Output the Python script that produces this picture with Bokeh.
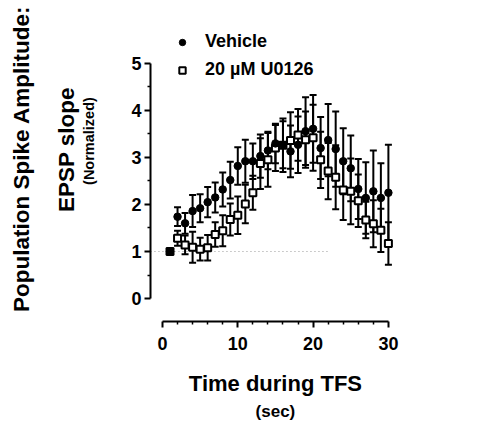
import numpy as np
from bokeh.plotting import figure
from bokeh.models import (Range1d, FixedTicker, Whisker, TeeHead, ColumnDataSource,
                          Label, Legend, LegendItem)
from bokeh.embed import file_html
from bokeh.resources import INLINE

# ---- data ----
TIME = list(range(1, 31))
VEHICLE = [1.00, 1.74, 1.60, 1.86, 1.92, 2.05, 2.15, 2.32, 2.52, 2.82,
           2.92, 2.92, 3.03, 3.15, 3.30, 3.27, 3.13, 3.27, 3.56, 3.61,
           3.20, 3.37, 3.18, 2.92, 2.77, 2.33, 2.14, 2.28, 2.14, 2.25]
VEHICLE_SEM = [0.00, 0.20, 0.22, 0.34, 0.30, 0.32, 0.32, 0.36, 0.39, 0.40,
               0.46, 0.38, 0.46, 0.40, 0.42, 0.50, 0.55, 0.60, 0.72, 0.72,
               0.66, 0.77, 0.80, 0.70, 0.70, 0.64, 0.76, 0.87, 0.74, 1.02]
U0126 = [1.00, 1.28, 1.14, 1.09, 1.05, 1.08, 1.36, 1.44, 1.68, 1.77,
         2.01, 2.25, 2.87, 2.95, 3.20, 3.26, 3.36, 3.48, 3.38, 3.42,
         2.95, 2.71, 2.58, 2.31, 2.28, 2.08, 1.67, 1.59, 1.45, 1.17]
U0126_SEM = [0.00, 0.16, 0.20, 0.33, 0.24, 0.27, 0.26, 0.33, 0.34, 0.40,
             0.41, 0.36, 0.54, 0.57, 0.49, 0.57, 0.60, 0.55, 0.60, 0.70,
             0.60, 0.60, 0.68, 0.64, 0.70, 0.56, 0.39, 0.50, 0.46, 0.45]
SERIES_NAMES = ["Vehicle", "20 \u00b5M U0126"]
X_TICKS = [0, 10, 20, 30]
Y_TICKS = [0, 1, 2, 3, 4, 5]
BASELINE = 1.0
BASELINE_END = 22

FONT = "Liberation Sans"
# where the two (offset, Prism-style) axes cross the other dimension
Y_AXIS_AT = -1.594
X_AXIS_AT = -0.489

p = figure(width=469, height=422,
           x_range=Range1d(-21.51, 40.77), y_range=Range1d(-2.638, 6.34),
           output_backend="svg", toolbar_location=None,
           min_border_left=0, min_border_right=0,
           min_border_top=0, min_border_bottom=0)
p.outline_line_color = None
p.xgrid.visible = False
p.ygrid.visible = False
p.background_fill_color = "white"

veh_src = ColumnDataSource(dict(
    x=TIME, y=VEHICLE,
    upper=[v + s for v, s in zip(VEHICLE, VEHICLE_SEM)],
    lower=[v - s for v, s in zip(VEHICLE, VEHICLE_SEM)]))
u_src = ColumnDataSource(dict(
    x=TIME, y=U0126,
    upper=[v + s for v, s in zip(U0126, U0126_SEM)],
    lower=[v - s for v, s in zip(U0126, U0126_SEM)]))

# dotted baseline at 1
p.segment(x0=[Y_AXIS_AT], y0=[BASELINE], x1=[BASELINE_END], y1=[BASELINE],
          line_color="#9a9a9a", line_width=1, line_dash="1 3")

# error bars
for src in (u_src, veh_src):
    w = Whisker(source=src, base="x", upper="upper", lower="lower",
                dimension="height", line_color="black", line_width=2,
                upper_head=TeeHead(size=7, line_width=2, line_color="black"),
                lower_head=TeeHead(size=7, line_width=2, line_color="black"))
    p.add_layout(w)

r_u = p.scatter("x", "y", source=u_src, marker="square", size=7,
                fill_color="white", line_color="black", line_width=2)
r_v = p.scatter("x", "y", source=veh_src, marker="circle", size=7.5,
                fill_color="black", line_color="black", line_width=1)

# axes
xa = p.xaxis[0]
ya = p.yaxis[0]
xa.fixed_location = X_AXIS_AT
ya.fixed_location = Y_AXIS_AT
xa.bounds = (X_TICKS[0], X_TICKS[-1])
ya.bounds = (Y_TICKS[0], Y_TICKS[-1])
xa.ticker = FixedTicker(ticks=X_TICKS,
                        minor_ticks=[t for t in range(X_TICKS[0], X_TICKS[-1] + 1, 2) if t % 10])
ya.ticker = FixedTicker(ticks=Y_TICKS, minor_ticks=[t + 0.5 for t in Y_TICKS[:-1]])
for ax in (xa, ya):
    ax.axis_line_width = 2
    ax.axis_line_color = "black"
    ax.major_tick_line_width = 2
    ax.minor_tick_line_width = 1.5
    ax.major_tick_line_color = "black"
    ax.minor_tick_line_color = "black"
    ax.major_tick_in = 0
    ax.minor_tick_in = 0
    ax.major_tick_out = 6
    ax.minor_tick_out = 3
    ax.major_label_text_font = FONT
    ax.major_label_text_font_style = "bold"
    ax.major_label_text_color = "black"
xa.major_label_text_font_size = "18px"
ya.major_label_text_font_size = "18px"
xa.major_label_standoff = 10
ya.major_label_standoff = 3

# axis titles (inside the full-canvas frame, in data units)
def lab(text, x, y, size, angle=0.0):
    p.add_layout(Label(x=x, y=y, text=text,
                       angle=angle, text_align="center", text_baseline="middle",
                       text_font=FONT, text_font_style="bold",
                       text_font_size=size, text_color="black"))

lab("Population Spike Amplitude:", -18.75, 2.97, "22.5px", np.pi / 2)
lab("EPSP slope", -12.75, 3.17, "22.5px", np.pi / 2)
lab("(Normalized)", -9.75, 3.35, "14.5px", np.pi / 2)
lab("Time during TFS", 15.0, -1.80, "22px")
lab("(sec)", 15.0, -2.40, "17px")

# legend
legend = Legend(items=[LegendItem(label=SERIES_NAMES[0], renderers=[r_v]),
                       LegendItem(label=SERIES_NAMES[1], renderers=[r_u])],
                location=(174, 342), orientation="vertical",
                glyph_width=16, glyph_height=16, label_standoff=15,
                spacing=7, padding=0, margin=0,
                border_line_color=None, background_fill_alpha=0,
                label_text_font=FONT, label_text_font_style="bold",
                label_text_font_size="18px", label_text_color="black")
p.add_layout(legend)

open("out.html", "w").write(file_html(p, INLINE))
